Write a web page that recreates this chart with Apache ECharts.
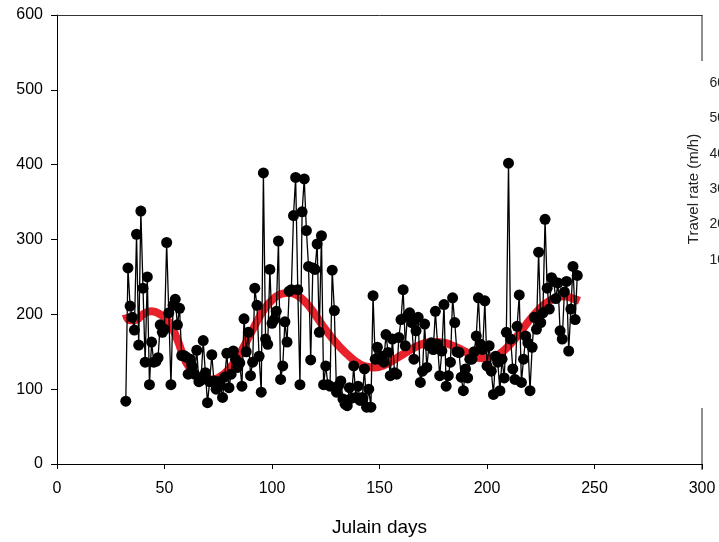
<!DOCTYPE html>
<html>
<head>
<meta charset="utf-8">
<script src="https://cdn.jsdelivr.net/npm/echarts@6/dist/echarts.min.js"></script>
<style>
html,body{margin:0;padding:0;background:#fff;}
#chart{width:719px;height:542px;}
</style>
</head>
<body>
<div id="chart"></div>
<script>
// Observed daily travel rate
const days = [32,33,34,35,36,37,38,39,40,41,42,43,44,45,46,47,48,49,50,51,52,53,54,55,56,57,58,59,60,61,62,63,64,65,66,67,68,69,70,71,72,73,74,75,76,77,78,79,80,81,82,83,84,85,86,87,88,89,90,91,92,93,94,95,96,97,98,99,100,101,102,103,104,105,106,107,108,109,110,111,112,113,114,115,116,117,118,119,120,121,122,123,124,125,126,127,128,129,130,131,132,133,134,135,136,137,138,139,140,141,142,143,144,145,146,147,148,149,150,151,152,153,154,155,156,157,158,159,160,161,162,163,164,165,166,167,168,169,170,171,172,173,174,175,176,177,178,179,180,181,182,183,184,185,186,187,188,189,190,191,192,193,194,195,196,197,198,199,200,201,202,203,204,205,206,207,208,209,210,211,212,213,214,215,216,217,218,219,220,221,222,223,224,225,226,227,228,229,230,231,232,233,234,235,236,237,238,239,240,241,242];
const rates = [84,262,211,196,179,307,159,338,235,136,250,106,163,136,137,142,186,176,180,296,202,106,212,220,186,208,145,145,143,120,140,130,120,152,110,112,165,122,82,110,146,111,100,110,105,89,116,148,102,120,151,140,129,135,104,194,150,176,118,136,235,212,144,96,389,167,160,260,188,193,204,298,113,131,190,163,231,233,332,383,233,106,337,381,312,264,139,262,260,294,176,305,106,131,106,104,259,205,96,105,111,87,80,78,102,88,131,89,104,85,89,127,76,100,76,225,140,156,140,144,136,173,149,118,167,122,120,169,193,233,158,198,202,189,140,178,196,109,124,187,129,158,162,153,204,160,118,151,213,104,118,136,222,189,150,149,116,98,127,115,140,140,150,171,222,160,153,218,131,158,124,93,144,136,98,140,115,176,402,167,127,113,184,226,109,140,171,162,98,156,196,180,283,189,202,327,235,207,249,244,221,242,178,167,230,244,151,207,264,193,252];
// Fitted smooth trend
const fitDays = [32,34,37,40,44,48,52,56,60,64,68,72,76,80,84,88,92,96,100,104,108,112,116,120,124,128,132,136,140,144,148,152,156,160,164,168,172,176,180,184,188,192,196,200,204,208,212,216,220,224,228,232,236,240,243];
const fitValues = [200,192,193,200,204,200,190,166,136,121,114,113,117,127,142,163,185,205,219,227,229,225,215,200,183,168,155,144,135,130,129,132,138,145,152,158,162,163,162,158,153,147,142,141,144,152,164,178,193,206,216,222,224,221,218];
// Axis ticks
const xTicks = {min:0, max:300, step:50};
const yTicks = {min:0, max:600, step:100};
const rateTicks = {min:0, max:60, step:10};

const obs = days.map((d,i)=>[d, rates[i]]);
const fit = fitDays.map((d,i)=>[d, fitValues[i]]);

const FONT = 'Liberation Sans, Arial, sans-serif';
const chart = echarts.init(document.getElementById('chart'), null, {renderer:'canvas'});
chart.setOption({
  animation:false,
  backgroundColor:'#fff',
  grid:[
    {left:57, top:15, width:645, height:450, containLabel:false},
    {left:731, top:83, width:60, height:212, containLabel:false}
  ],
  xAxis:[
    {gridIndex:0, type:'value', min:xTicks.min, max:xTicks.max, interval:xTicks.step,
     axisLine:{lineStyle:{color:'#000', width:1}},
     axisTick:{inside:false, length:5, lineStyle:{color:'#000'}},
     axisLabel:{color:'#000', fontFamily:FONT, fontSize:16, margin:17},
     splitLine:{show:false},
     name:'Julain days', nameLocation:'middle', nameGap:54,
     nameTextStyle:{color:'#000', fontFamily:FONT, fontSize:19}},
    {gridIndex:0, type:'value', position:'top', min:xTicks.min, max:xTicks.max,
     axisLine:{show:true, lineStyle:{color:'#333', width:1}},
     axisTick:{show:false}, axisLabel:{show:false}, splitLine:{show:false}},
    {gridIndex:1, type:'value', show:false, min:0, max:1}
  ],
  yAxis:[
    {gridIndex:0, type:'value', min:yTicks.min, max:yTicks.max, interval:yTicks.step,
     axisLine:{show:true, lineStyle:{color:'#000', width:1}},
     axisTick:{show:true, inside:false, length:6, lineStyle:{color:'#000'}},
     axisLabel:{color:'#000', fontFamily:FONT, fontSize:16, margin:14},
     splitLine:{show:false}},
    {gridIndex:1, type:'value', position:'left', min:rateTicks.min, max:rateTicks.max, interval:rateTicks.step,
     axisLine:{show:false}, axisTick:{show:false},
     axisLabel:{color:'#222', fontFamily:FONT, fontSize:14, margin:6,
       formatter:function(v){return v===0?'':String(v);}},
     splitLine:{show:false},
     name:'Travel rate (m/h)', nameLocation:'middle', nameRotate:90, nameGap:30,
     nameTextStyle:{color:'#222', fontFamily:FONT, fontSize:15}}
  ],
  graphic:[
    {type:'line', shape:{x1:702, y1:15, x2:702, y2:61}, style:{stroke:'#444', lineWidth:1.2}},
    {type:'line', shape:{x1:702, y1:408, x2:702, y2:470}, style:{stroke:'#444', lineWidth:1.2}}
  ],
  series:[
    {type:'line', xAxisIndex:0, yAxisIndex:0, data:fit, smooth:0.5, showSymbol:false, symbol:'none',
     lineStyle:{color:'#e8212b', width:8}, z:2, silent:true},
    {type:'line', xAxisIndex:0, yAxisIndex:0, data:obs, symbol:'circle', symbolSize:11,
     itemStyle:{color:'#000'}, lineStyle:{color:'#000', width:1.3}, z:3, silent:true}
  ]
});
</script>
</body>
</html>
